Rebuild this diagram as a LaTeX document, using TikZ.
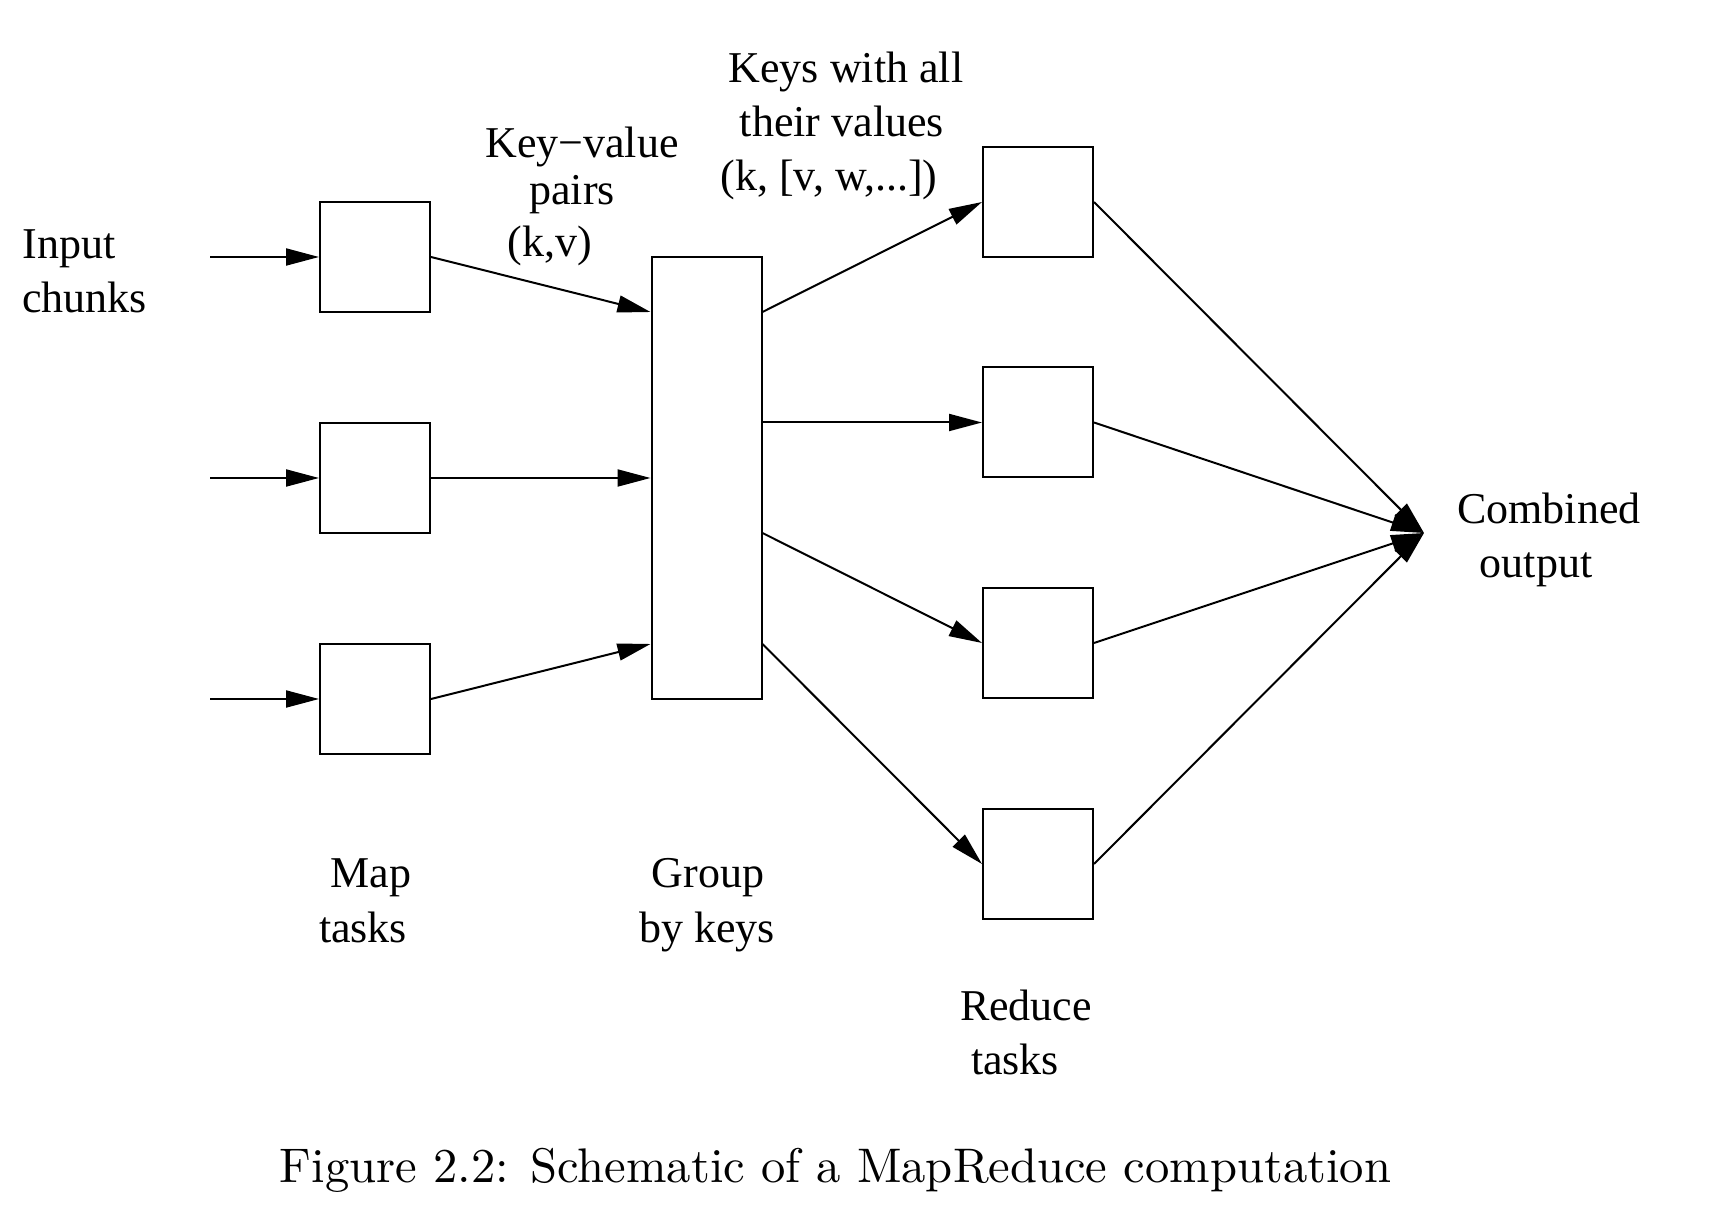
\documentclass[tikz,border=0pt]{standalone}
\usepackage{fontspec}
\newfontfamily\diafont{Liberation Serif}
\newfontfamily\capfont{lmroman10-regular.otf}
\usetikzlibrary{arrows.meta}
\begin{document}
\begin{tikzpicture}[x=0.5pt,y=-0.5pt,
  box/.style={draw, line width=1pt, inner sep=0pt, minimum width=55pt, minimum height=55pt},
  lbl/.style={font=\diafont\fontsize{22pt}{26pt}\selectfont, inner sep=0pt, anchor=base},
  arr/.style={line width=1pt, -{Triangle[length=16.5pt,width=8.5pt]}}]
\useasboundingbox[fill=white] (0,0) rectangle (1720,1224);
% boxes
\node[box] (m1) at (375,257) {};
\node[box] (m2) at (375,478) {};
\node[box] (m3) at (375,699) {};
\node[box, minimum height=221pt] (g) at (706.5,478) {};
\node[box] (r1) at (1038,202) {};
\node[box] (r2) at (1038,422.5) {};
\node[box] (r3) at (1038,643) {};
\node[box] (r4) at (1038,864) {};
\coordinate (i1) at (210,257);
\coordinate (i2) at (210,478);
\coordinate (i3) at (210,699);
\coordinate (out) at (1424,533);
% connectors
\draw[arr] (i1) -- (m1.west);
\draw[arr] (i2) -- (m2.west);
\draw[arr] (i3) -- (m3.west);
\draw[arr] (m1.east) -- ([yshift=83pt]g.west);
\draw[arr] (m2.east) -- (g.west);
\draw[arr] (m3.east) -- ([yshift=-83pt]g.west);
\draw[arr] ([yshift=83pt]g.east) -- (r1.west);
\draw[arr] ([yshift=27.75pt]g.east) -- (r2.west);
\draw[arr] ([yshift=-27.5pt]g.east) -- (r3.west);
\draw[arr] ([yshift=-83pt]g.east) -- (r4.west);
\draw[arr] (r1.east) -- (out);
\draw[arr] (r2.east) -- (out);
\draw[arr] (r3.east) -- (out);
\draw[arr] (r4.east) -- (out);
% labels
\node[lbl, anchor=base west] (in1) at (22,259) {Input};
\node[lbl, anchor=base west] (in2) at (22,313) {chunks};
\node[lbl] (kv1) at (582,158) {Key−value};
\node[lbl] (kv2) at (572,205) {pairs};
\node[lbl] (kv3) at (550,257) {(k,v)};
\node[lbl] (ka1) at (846,83) {Keys with all};
\node[lbl] (ka2) at (842,137) {their values};
\node[lbl] (ka3) at (829,191) {(k, [v, w,...])};
\node[lbl] (co1) at (1549,524) {Combined};
\node[lbl] (co2) at (1536,578) {output};
\node[lbl] (mt1) at (371,887) {Map};
\node[lbl] (mt2) at (363,942) {tasks};
\node[lbl] (gk1) at (708,887) {Group};
\node[lbl] (gk2) at (707,942) {by keys};
\node[lbl] (rt1) at (1026,1020) {Reduce};
\node[lbl] (rt2) at (1015,1074) {tasks};
\node[anchor=base, inner sep=0pt, font=\capfont\fontsize{24.3pt}{29pt}\selectfont] (cap) at (835.5,1182) {Figure 2.2: Schematic of a MapReduce computation};
\end{tikzpicture}
\end{document}
